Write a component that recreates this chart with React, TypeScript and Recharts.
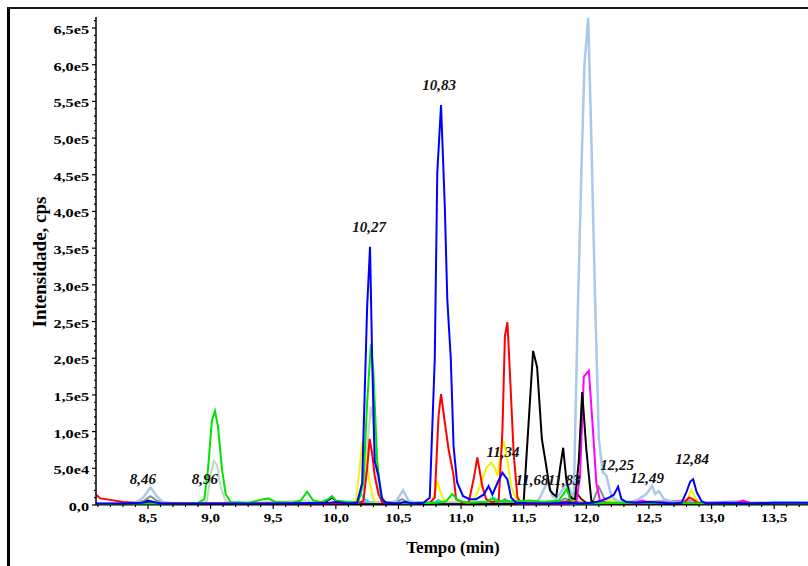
import React from 'react';
import { LineChart, Line, XAxis, YAxis, ReferenceDot } from 'recharts';

type Pt = [number, number]; // [time (min), intensity (k cps)]

const blue: Pt[] = [[8.085,2],[8.3,2],[8.45,3],[8.52,5],[8.6,2],[9.0,2],[9.5,2],[9.95,3],[10.0,4],[10.1,2],[10.17,3],[10.21,30],[10.23,150],[10.25,270],[10.273,352],[10.29,200],[10.31,60],[10.34,40],[10.37,8],[10.4,3],[10.5,2],[10.55,4],[10.62,2],[10.7,3],[10.75,10],[10.79,200],[10.81,453],[10.84,545],[10.87,407],[10.89,280],[10.918,199],[10.94,80],[10.968,31],[11.016,12],[11.07,8],[11.12,8],[11.18,14],[11.22,26],[11.25,14],[11.29,30],[11.33,44],[11.37,35],[11.4,10],[11.44,3],[11.55,2],[11.7,2],[11.85,3],[11.95,2],[12.05,3],[12.12,6],[12.18,10],[12.22,14],[12.254,25],[12.28,8],[12.32,4],[12.4,3],[12.5,4],[12.6,3],[12.7,2],[12.76,3],[12.8,18],[12.83,32],[12.853,35],[12.88,18],[12.92,5],[12.96,2],[13.1,3],[13.3,2],[13.5,3],[13.77,3]];
const green: Pt[] = [[8.085,1],[8.8,2],[8.9,3],[8.95,8],[8.98,50],[9.01,115],[9.035,128],[9.06,106],[9.09,50],[9.12,15],[9.16,4],[9.3,3],[9.4,7],[9.46,9],[9.52,4],[9.65,3],[9.72,6],[9.77,18],[9.82,6],[9.88,4],[9.94,8],[9.97,12],[10.0,6],[10.1,4],[10.18,4],[10.22,30],[10.25,140],[10.28,219],[10.3,180],[10.33,60],[10.36,12],[10.4,3],[10.6,2],[10.8,3],[10.88,5],[10.93,15],[10.98,6],[11.05,3],[11.2,4],[11.25,9],[11.28,5],[11.45,5],[11.55,6],[11.65,4],[11.78,6],[11.845,22],[11.87,8],[11.9,3],[12.0,2],[12.2,3],[13.0,2],[13.77,2]];
const paleGreen: Pt[] = [[8.085,1],[8.5,3],[8.9,2],[8.97,5],[9.0,40],[9.025,60],[9.05,55],[9.08,25],[9.12,5],[9.2,2],[9.77,6],[9.85,2],[10.2,3],[10.22,10],[10.25,80],[10.28,134],[10.3,110],[10.33,30],[10.37,4],[10.5,2],[10.85,4],[11.3,5],[11.5,2],[12.1,4],[12.5,3],[13.77,1]];
const red: Pt[] = [[8.085,14],[8.12,9],[8.2,7],[8.3,4],[8.5,2],[9.0,2],[9.5,2],[10.0,2],[10.18,3],[10.22,5],[10.25,50],[10.27,90],[10.29,70],[10.31,40],[10.34,15],[10.37,4],[10.5,2],[10.75,3],[10.79,10],[10.82,121],[10.84,151],[10.87,113],[10.9,76],[10.94,40],[10.96,8],[11.02,3],[11.06,3],[11.1,35],[11.13,65],[11.17,25],[11.2,8],[11.24,4],[11.3,5],[11.33,100],[11.35,230],[11.37,249],[11.39,180],[11.42,70],[11.45,10],[11.48,3],[11.7,2],[11.88,5],[11.95,3],[12.1,2],[12.5,2],[12.78,3],[12.82,10],[12.85,8],[12.9,2],[13.2,3],[13.77,2]];
const yellow: Pt[] = [[8.085,1],[9.0,2],[10.1,2],[10.16,5],[10.19,50],[10.21,86],[10.24,65],[10.27,30],[10.3,8],[10.33,3],[10.6,2],[10.76,3],[10.79,15],[10.81,33],[10.84,15],[10.87,4],[10.95,3],[11.05,3],[11.1,5],[11.15,25],[11.2,50],[11.24,58],[11.27,50],[11.29,40],[11.32,75],[11.34,87],[11.37,60],[11.4,25],[11.45,4],[11.6,2],[12.0,2],[12.15,5],[12.2,8],[12.25,4],[12.5,2],[12.78,3],[12.82,12],[12.84,21],[12.87,10],[12.9,3],[13.77,1]];
const cyan: Pt[] = [[8.085,1],[10.1,2],[10.17,6],[10.2,15],[10.23,8],[10.27,4],[10.5,2],[10.78,3],[10.82,7],[10.86,3],[11.2,4],[11.26,10],[11.3,6],[11.36,4],[11.5,3],[11.7,3],[11.85,5],[12.0,2],[13.77,1]];
const lightBlue: Pt[] = [[8.085,2],[8.3,2],[8.4,3],[8.46,10],[8.52,24],[8.57,12],[8.62,4],[8.7,2],[10.4,2],[10.48,5],[10.537,20],[10.58,6],[10.65,2],[11.5,3],[11.6,4],[11.63,10],[11.67,25],[11.7,30],[11.73,12],[11.76,8],[11.8,18],[11.85,31],[11.88,15],[11.9,12],[11.93,250],[11.96,450],[11.985,600],[12.015,664],[12.04,500],[12.07,280],[12.1,90],[12.13,45],[12.16,40],[12.2,12],[12.25,5],[12.35,4],[12.42,8],[12.48,15],[12.525,26],[12.55,15],[12.58,19],[12.62,8],[12.7,4],[12.8,4],[12.9,3],[13.2,5],[13.3,3],[13.5,4],[13.77,3]];
const black: Pt[] = [[8.085,1],[11.0,1],[11.45,2],[11.5,5],[11.575,210],[11.607,188],[11.645,90],[11.68,53],[11.71,20],[11.735,15],[11.76,12],[11.79,50],[11.815,78],[11.84,35],[11.87,10],[11.91,8],[11.94,60],[11.967,154],[12.0,76],[12.04,6],[12.08,2],[12.5,1],[13.77,1]];
const magenta: Pt[] = [[8.085,1],[11.8,1],[11.92,3],[11.95,40],[11.98,175],[12.02,183],[12.05,110],[12.08,30],[12.11,5],[12.2,2],[12.4,4],[12.45,6],[12.5,3],[13.2,3],[13.25,6],[13.3,3],[13.77,1]];
const maroon: Pt[] = [[8.085,1],[11.8,2],[11.84,3],[11.88,10],[11.91,19],[11.96,8],[12.0,3],[12.1,2],[13.77,1]];
const gray: Pt[] = [[8.085,1],[8.4,2],[8.47,6],[8.52,12],[8.57,6],[8.65,2],[10.45,2],[10.53,8],[10.58,3],[11.3,3],[11.35,8],[11.4,3],[11.78,4],[11.83,9],[11.9,3],[12.05,4],[12.1,25],[12.14,10],[12.2,3],[12.82,6],[12.9,2],[13.2,2],[13.25,5],[13.3,2],[13.77,1]];
const navy: Pt[] = [[8.085,1],[8.45,2],[8.5,6],[8.55,3],[9.9,2],[9.97,10],[10.02,3],[10.5,3],[13.77,1]];
const slate: Pt[] = [[8.085,0.5],[13.77,0.5]];

const annTimes = [8.46, 8.955, 10.265, 10.824, 11.335, 11.567, 11.823, 12.246, 12.486, 12.845];
const annHeights = [35, 35, 379, 572, 72, 34, 34, 55, 37, 63];
const annLabels = ['8,46', '8,96', '10,27', '10,83', '11,34', '11,68', '11,83', '12,25', '12,49', '12,84'];

const xTicks = [8.1,8.2,8.3,8.4,8.5,8.6,8.7,8.8,8.9,9.0,9.1,9.2,9.3,9.4,9.5,9.6,9.7,9.8,9.9,10.0,10.1,10.2,10.3,10.4,10.5,10.6,10.7,10.8,10.9,11.0,11.1,11.2,11.3,11.4,11.5,11.6,11.7,11.8,11.9,12.0,12.1,12.2,12.3,12.4,12.5,12.6,12.7,12.8,12.9,13.0,13.1,13.2,13.3,13.4,13.5,13.6,13.7];
const yTicks = Array.from({ length: 67 }, (_, i) => i * 10000);

const series = [
  { key: 'slate', pts: slate, color: '#6a7f9a', w: 3 },
  { key: 'gray', pts: gray, color: '#8a8a8a', w: 2 },
  { key: 'paleGreen', pts: paleGreen, color: '#c2d8c2', w: 2 },
  { key: 'navy', pts: navy, color: '#000080', w: 2 },
  { key: 'maroon', pts: maroon, color: '#8b0000', w: 2 },
  { key: 'cyan', pts: cyan, color: '#00f0f0', w: 2 },
  { key: 'yellow', pts: yellow, color: '#f4f400', w: 2 },
  { key: 'lightBlue', pts: lightBlue, color: '#a9c9ec', w: 2.5 },
  { key: 'magenta', pts: magenta, color: '#ff00ff', w: 2 },
  { key: 'black', pts: black, color: '#000000', w: 2 },
  { key: 'red', pts: red, color: '#ff0000', w: 2 },
  { key: 'green', pts: green, color: '#00e400', w: 2 },
  { key: 'blue', pts: blue, color: '#0000ff', w: 2 },
];

const FONT = '"Liberation Serif", "Times New Roman", serif';

const fmtY = (v: number) => {
  if (v === 0) return '0,0';
  if (v < 100000) return (v / 10000).toFixed(1).replace('.', ',') + 'e4';
  return (v / 100000).toFixed(1).replace('.', ',') + 'e5';
};

const XTick = (props: any) => {
  const { x, y, payload } = props;
  const v = payload.value as number;
  const major = Math.abs(v * 2 - Math.round(v * 2)) < 1e-6;
  return (
    <g>
      <line x1={x} y1={y} x2={x} y2={y + (major ? 4 : 2)} stroke="#000" strokeWidth={1.2} />
      {major && (
        <text
          transform={`translate(${x},${y + 17}) scale(1.2,1)`}
          textAnchor="middle"
          fontFamily={FONT}
          fontWeight="bold"
          fontSize={12.5}
          fill="#000"
        >
          {v.toFixed(1).replace('.', ',')}
        </text>
      )}
    </g>
  );
};

const YTick = (props: any) => {
  const { x, y, payload } = props;
  const v = payload.value as number;
  const major = v % 50000 === 0;
  return (
    <g>
      <line x1={x - (major ? 4 : 2)} y1={y} x2={x} y2={y} stroke="#000" strokeWidth={1.2} />
      {major && (
        <text
          transform={`translate(${x - 7},${y + 6}) scale(1.3,1)`}
          textAnchor="end"
          fontFamily={FONT}
          fontWeight="bold"
          fontSize={12.5}
          fill="#000"
        >
          {fmtY(v)}
        </text>
      )}
    </g>
  );
};

export default function App() {
  return (
    <div style={{ position: 'absolute', left: 0, top: 0, width: 808, height: 566, overflow: 'hidden', background: '#fff' }}>
      <div style={{ position: 'absolute', left: 7, top: 7, width: 3, height: 560, background: '#000' }} />
      <div style={{ position: 'absolute', left: 7, top: 7, width: 801, height: 2, background: '#1a1a1a' }} />
      <div style={{ position: 'absolute', left: 0, top: 0 }}>
        <LineChart width={808} height={566} margin={{ top: 17, right: 0, left: 0, bottom: 21 }}>
          <XAxis
            dataKey="t"
            type="number"
            domain={[8.085, 13.77]}
            allowDataOverflow
            ticks={xTicks}
            interval={0}
            tick={<XTick />}
            tickLine={false}
            tickSize={0}
            tickMargin={0}
            height={40}
            axisLine={{ stroke: '#000', strokeWidth: 1.2 }}
            label={{
              content: () => (
                <text x={453} y={553} textAnchor="middle" fontFamily={FONT} fontWeight="bold" fontSize={17} fill="#000">
                  Tempo (min)
                </text>
              ),
            }}
          />
          <YAxis
            type="number"
            domain={[0, 665000]}
            allowDataOverflow
            ticks={yTicks}
            interval={0}
            tick={<YTick />}
            tickLine={false}
            tickSize={0}
            tickMargin={0}
            width={96}
            axisLine={{ stroke: '#000', strokeWidth: 1.5 }}
            label={{
              content: () => (
                <text
                  x={0}
                  y={0}
                  transform="translate(46,262) rotate(-90)"
                  textAnchor="middle"
                  fontFamily={FONT}
                  fontWeight="bold"
                  fontSize={19}
                  fill="#000"
                >
                  Intensidade, cps
                </text>
              ),
            }}
          />
          {series.map((s) => (
            <Line
              key={s.key}
              data={s.pts.map(([t, v]) => ({ t, v: v * 1000 }))}
              dataKey="v"
              type="linear"
              stroke={s.color}
              strokeWidth={s.w}
              dot={false}
              activeDot={false}
              isAnimationActive={false}
            />
          ))}
          {annTimes.map((t, i) => (
            <ReferenceDot
              key={annLabels[i]}
              x={t}
              y={annHeights[i] * 1000}
              r={1}
              ifOverflow="visible"
              shape={(p: any) => (
                <text
                  x={p.cx}
                  y={p.cy + 5}
                  textAnchor="middle"
                  fontFamily={FONT}
                  fontWeight="bold"
                  fontStyle="italic"
                  fontSize={15}
                  fill="#111"
                >
                  {annLabels[i]}
                </text>
              )}
            />
          ))}
        </LineChart>
      </div>
    </div>
  );
}
